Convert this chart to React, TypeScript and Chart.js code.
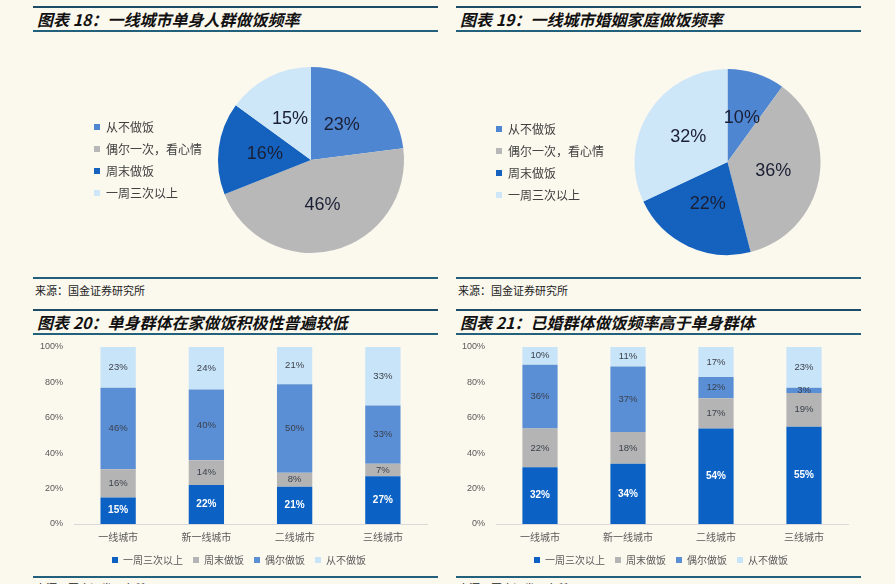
import React, { useEffect, useRef } from "react";
import { Chart, registerables } from "chart.js";

Chart.register(...registerables);

// ---------- data ----------
const pieLabels = ["从不做饭", "偶尔一次，看心情", "周末做饭", "一周三次以上"];
const pie18Values = [23, 46, 16, 15];
const pie19Values = [10, 36, 22, 32];
const pieColors = ["#4f86d2", "#b8b8b8", "#1462be", "#cde6f8"];

const barCategories = ["一线城市", "新一线城市", "二线城市", "三线城市"];
const barSeriesNames = ["一周三次以上", "周末做饭", "偶尔做饭", "从不做饭"];
const barColors = ["#0b62c4", "#b4b4b4", "#5a8fd6", "#c8e4f8"];

const singleThreePlus = [15, 22, 21, 27];
const singleWeekend = [16, 14, 8, 7];
const singleOccasional = [46, 40, 50, 33];
const singleNever = [23, 24, 21, 33];

const marriedThreePlus = [32, 34, 54, 55];
const marriedWeekend = [22, 18, 17, 19];
const marriedOccasional = [36, 37, 12, 3];
const marriedNever = [10, 11, 17, 23];

const yTicks = [0, 20, 40, 60, 80, 100];

const titles = [
  "图表 18：一线城市单身人群做饭频率",
  "图表 19：一线城市婚姻家庭做饭频率",
  "图表 20：单身群体在家做饭积极性普遍较低",
  "图表 21：已婚群体做饭频率高于单身群体",
];
const sourceText = "来源：国金证券研究所";

const CJK = "'Noto Sans CJK SC', 'Noto Sans', sans-serif";
const NUM = "'Liberation Sans', Arial, sans-serif";

// ---------- plugins ----------
const pieLabelPlugin = {
  id: "pieValueLabels",
  afterDatasetsDraw(chart: any) {
    const ctx = chart.ctx;
    const meta = chart.getDatasetMeta(0);
    const data = chart.data.datasets[0].data;
    ctx.save();
    ctx.font = `18px ${NUM}`;
    ctx.fillStyle = "#1b1f33";
    ctx.textAlign = "center";
    ctx.textBaseline = "middle";
    meta.data.forEach((arc: any, i: number) => {
      const p = arc.getCenterPoint();
      ctx.fillText(data[i] + "%", p.x, p.y);
    });
    ctx.restore();
  },
};

const barLabelPlugin = {
  id: "barValueLabels",
  afterDatasetsDraw(chart: any) {
    const ctx = chart.ctx;
    ctx.save();
    ctx.textAlign = "center";
    ctx.textBaseline = "middle";
    chart.data.datasets.forEach((ds: any, di: number) => {
      const meta = chart.getDatasetMeta(di);
      meta.data.forEach((bar: any, i: number) => {
        const p = bar.getProps(["x", "y", "base"], true);
        ctx.font = di === 0 ? `bold 10px ${NUM}` : `9.5px ${NUM}`;
        ctx.fillStyle = di === 0 ? "#ffffff" : "#3a3f4a";
        ctx.fillText(ds.data[i] + "%", p.x, (p.y + p.base) / 2);
      });
    });
    ctx.restore();
  },
};

const legendShiftPlugin = {
  id: "legendShift",
  afterLayout(chart: any) {
    const lg = chart.legend;
    if (lg) {
      lg.left += 9;
      lg.right += 9;
    }
  },
};

// ---------- configs ----------
function pieConfig(values: number[], padding: any) {
  return {
    type: "pie",
    data: {
      labels: pieLabels,
      datasets: [
        {
          data: values,
          backgroundColor: pieColors,
          borderWidth: 0,
          hoverOffset: 0,
        },
      ],
    },
    options: {
      responsive: false,
      animation: false,
      layout: { padding },
      plugins: {
        legend: {
          position: "left",
          align: "center",
          labels: {
            boxWidth: 6,
            boxHeight: 6,
            padding: 10,
            color: "#404040",
            font: { size: 12, family: CJK },
          },
        },
        tooltip: { enabled: false },
      },
    },
    plugins: [pieLabelPlugin],
  };
}

function barConfig(series: number[][], yWidth: number, rightPad: number) {
  return {
    type: "bar",
    data: {
      labels: barCategories,
      datasets: barSeriesNames.map((name, i) => ({
        label: name,
        data: series[i],
        backgroundColor: barColors[i],
        borderWidth: 0,
      })),
    },
    options: {
      responsive: false,
      animation: false,
      layout: { padding: { top: 9, right: rightPad, left: 0, bottom: 0 } },
      datasets: { bar: { categoryPercentage: 1, barPercentage: 0.4 } },
      scales: {
        x: {
          stacked: true,
          grid: { display: false, drawTicks: false },
          border: { display: true, color: "#d9d9d9" },
          ticks: { color: "#595959", font: { size: 10, family: CJK }, padding: 7 },
          afterFit(s: any) {
            s.height = 21;
          },
        },
        y: {
          stacked: true,
          min: 0,
          max: 100,
          grid: { display: false, drawTicks: false },
          border: { display: false },
          ticks: {
            color: "#595959",
            font: { size: 9, family: NUM },
            padding: 11,
            callback: (v: any) => v + "%",
          },
          afterBuildTicks(s: any) {
            s.ticks = yTicks.map((v) => ({ value: v }));
          },
          afterFit(s: any) {
            s.width = yWidth;
            s.paddingTop = 0;
            s.paddingBottom = 0;
          },
        },
      },
      plugins: {
        legend: {
          position: "bottom",
          labels: {
            boxWidth: 6,
            boxHeight: 6,
            padding: 10,
            color: "#595959",
            font: { size: 10, family: CJK },
          },
        },
        tooltip: { enabled: false },
      },
    },
    plugins: [barLabelPlugin, legendShiftPlugin],
  };
}

function ChartBox({ config, left, top, width, height }: any) {
  const ref = useRef<HTMLCanvasElement>(null);
  useEffect(() => {
    const chart = new Chart(ref.current as HTMLCanvasElement, config);
    return () => chart.destroy();
  }, []);
  return (
    <canvas
      ref={ref}
      width={width}
      height={height}
      style={{ position: "absolute", left, top, width, height }}
    />
  );
}

const RULE = "#22607c";

function Panel({ x, top, title, bottomRule, sourceTop }: any) {
  return (
    <>
      <div style={{ position: "absolute", left: x, top: top, width: 405, height: 2, background: "#1d4d66" }} />
      <div
        style={{
          position: "absolute",
          left: x + 4,
          top: top + 2,
          height: 22,
          lineHeight: "22px",
          fontFamily: CJK,
          fontWeight: 700,
          fontStyle: "italic",
          fontSize: 16,
          color: "#111",
          whiteSpace: "nowrap",
        }}
      >
        {title}
      </div>
      <div style={{ position: "absolute", left: x, top: top + 24, width: 405, height: 2, background: RULE }} />
      <div style={{ position: "absolute", left: x, top: bottomRule, width: 405, height: 2, background: RULE }} />
      <div
        style={{
          position: "absolute",
          left: x + 2,
          top: sourceTop,
          fontFamily: CJK,
          fontSize: 11,
          color: "#222",
          whiteSpace: "nowrap",
        }}
      >
        {sourceText}
      </div>
    </>
  );
}

export default function App() {
  return (
    <div
      style={{
        position: "absolute",
        left: 0,
        top: 0,
        width: 895,
        height: 584,
        overflow: "hidden",
        background: "#fbf8ee",
      }}
    >
      <Panel x={33} top={6} title={titles[0]} bottomRule={277} sourceTop={282} />
      <Panel x={456} top={6} title={titles[1]} bottomRule={277} sourceTop={282} />
      <Panel x={33} top={309} title={titles[2]} bottomRule={576} sourceTop={580} />
      <Panel x={456} top={309} title={titles[3]} bottomRule={576} sourceTop={580} />

      <ChartBox
        config={pieConfig(pie18Values, { left: 51, right: 28, top: 27, bottom: 22 })}
        left={33}
        top={40}
        width={405}
        height={235}
      />
      <ChartBox
        config={pieConfig(pie19Values, { left: 30, right: 20, top: 29, bottom: 20 })}
        left={456}
        top={40}
        width={405}
        height={235}
      />
      <ChartBox
        config={barConfig([singleThreePlus, singleWeekend, singleOccasional, singleNever], 41, 11)}
        left={33}
        top={338}
        width={405}
        height={237}
      />
      <ChartBox
        config={barConfig([marriedThreePlus, marriedWeekend, marriedOccasional, marriedNever], 40, 13)}
        left={456}
        top={338}
        width={405}
        height={237}
      />
    </div>
  );
}
